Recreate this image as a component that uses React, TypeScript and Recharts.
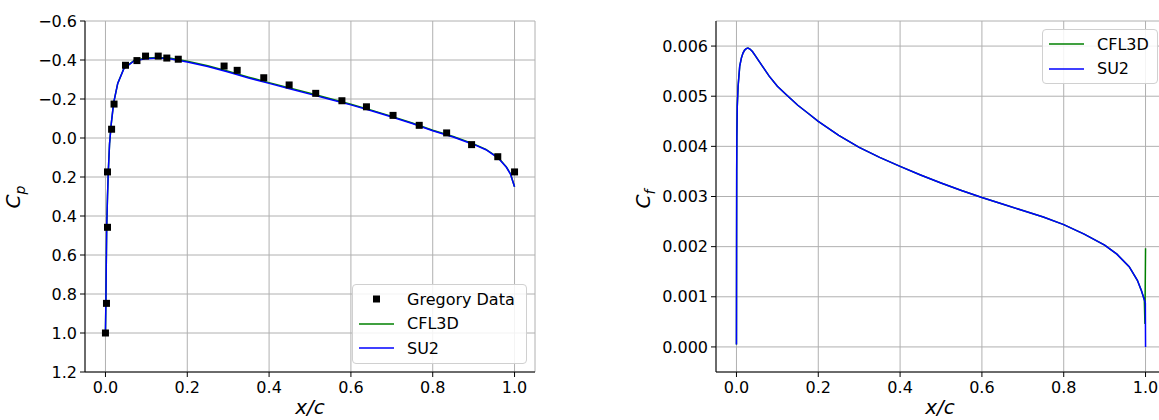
import { ComposedChart, Line, Scatter, XAxis, YAxis, CartesianGrid } from 'recharts';

// Cp distribution (x/c vs Cp)
const cpX = [0, 0.001, 0.002, 0.003, 0.005, 0.007, 0.01, 0.014, 0.02, 0.03, 0.045, 0.07, 0.1, 0.13, 0.16, 0.2, 0.25, 0.3, 0.35, 0.4, 0.45, 0.5, 0.55, 0.6, 0.65, 0.7, 0.75, 0.8, 0.85, 0.9, 0.93, 0.96, 0.98, 0.99, 1.0];
const su2Cp = [1.0, 0.85, 0.65, 0.46, 0.3, 0.17, 0.03, -0.07, -0.18, -0.28, -0.355, -0.395, -0.407, -0.41, -0.405, -0.39, -0.367, -0.338, -0.308, -0.28, -0.253, -0.225, -0.197, -0.17, -0.14, -0.108, -0.074, -0.037, -0.005, 0.033, 0.06, 0.103, 0.15, 0.185, 0.25];
const cfl3dCp = [1.0, 0.85, 0.65, 0.46, 0.3, 0.17, 0.03, -0.07, -0.18, -0.28, -0.357, -0.398, -0.41, -0.413, -0.409, -0.394, -0.371, -0.342, -0.312, -0.284, -0.257, -0.229, -0.201, -0.173, -0.143, -0.111, -0.077, -0.04, -0.008, 0.03, 0.058, 0.1, 0.148, 0.183, 0.25];

const gregoryX = [0, 0.0025, 0.005, 0.005, 0.015, 0.021, 0.049, 0.077, 0.098, 0.129, 0.15, 0.178, 0.29, 0.322, 0.387, 0.449, 0.514, 0.578, 0.638, 0.703, 0.767, 0.834, 0.895, 0.959, 1.0];
const gregoryCp = [1.0, 0.848, 0.458, 0.174, -0.045, -0.174, -0.373, -0.397, -0.42, -0.42, -0.41, -0.404, -0.369, -0.347, -0.309, -0.272, -0.229, -0.191, -0.16, -0.116, -0.065, -0.026, 0.034, 0.096, 0.174];

// Skin friction (x/c vs Cf)
const su2CfX = [0, 0.0003, 0.0006, 0.001, 0.002, 0.004, 0.008, 0.012, 0.016, 0.02, 0.024, 0.028, 0.033, 0.039, 0.046, 0.055, 0.065, 0.08, 0.1, 0.122, 0.15, 0.175, 0.2, 0.25, 0.3, 0.35, 0.4, 0.45, 0.5, 0.55, 0.6, 0.65, 0.7, 0.75, 0.8, 0.85, 0.9, 0.93, 0.96, 0.98, 0.99, 0.997, 0.9995, 1.0];
const su2Cf = [0.00005, 0.002, 0.0035, 0.0042, 0.0048, 0.0052, 0.0056, 0.00576, 0.00586, 0.00592, 0.00595, 0.00596, 0.00594, 0.00589, 0.00581, 0.0057, 0.00558, 0.0054, 0.0052, 0.00503, 0.00482, 0.00466, 0.0045, 0.00422, 0.00398, 0.00378, 0.0036, 0.00343, 0.00327, 0.00312, 0.00298, 0.00285, 0.00272, 0.00259, 0.00244, 0.00225, 0.00203, 0.00185, 0.0016, 0.00133, 0.00112, 0.00094, 0.00088, 0];
const cfl3dCfX = [0, 0.0003, 0.0006, 0.001, 0.002, 0.004, 0.008, 0.012, 0.016, 0.02, 0.024, 0.028, 0.033, 0.039, 0.046, 0.055, 0.065, 0.08, 0.1, 0.122, 0.15, 0.175, 0.2, 0.25, 0.3, 0.35, 0.4, 0.45, 0.5, 0.55, 0.6, 0.65, 0.7, 0.75, 0.8, 0.85, 0.9, 0.93, 0.96, 0.98, 0.99, 0.997, 0.9985, 1.0];
const cfl3dCf = [0.00005, 0.002, 0.0035, 0.0042, 0.0048, 0.0052, 0.0056, 0.00576, 0.00586, 0.00592, 0.00595, 0.00596, 0.00594, 0.00589, 0.00581, 0.0057, 0.00558, 0.0054, 0.0052, 0.00503, 0.00482, 0.00466, 0.0045, 0.00422, 0.00398, 0.00378, 0.0036, 0.00343, 0.00327, 0.00312, 0.00298, 0.00285, 0.00272, 0.00259, 0.00244, 0.00225, 0.00203, 0.00185, 0.0016, 0.00133, 0.00112, 0.00094, 0.00046, 0.00197];

const xTicks = [0, 0.2, 0.4, 0.6, 0.8, 1.0];
const cpTicks = [-0.6, -0.4, -0.2, 0, 0.2, 0.4, 0.6, 0.8, 1.0, 1.2];
const cfTicks = [0, 0.001, 0.002, 0.003, 0.004, 0.005, 0.006];

const GREEN = '#008000';
const BLUE = '#0000ff';
const FONT = '"DejaVu Sans", sans-serif';
const tickStyle = { fontFamily: FONT, fontSize: 16, fill: '#000' };

const fmt = (d: number) => (v: number) => v.toFixed(d).replace('-', '\u2212');

const squareShape = (p: any) => <rect x={p.cx - 3.5} y={p.cy - 3.5} width={7} height={7} fill="#000" />;

interface LegendItem { label: string; kind: 'square' | 'line'; color: string }

function LegendBox({ items, left, top, width }: { items: LegendItem[]; left: number; top: number; width: number }) {
  return (
    <div style={{
      position: 'absolute', left, top, width, boxSizing: 'border-box', background: 'rgba(255,255,255,0.85)',
      border: '1px solid #d0d0d0', borderRadius: 4, padding: '2px 0 2px 6px', fontFamily: FONT, fontSize: 16, color: '#000',
    }}>
      {items.map((it) => (
        <div key={it.label} style={{ display: 'flex', alignItems: 'center', height: 24.5 }}>
          <svg width={35} height={10} style={{ marginRight: 13, flexShrink: 0 }}>
            {it.kind === 'square'
              ? <rect x={14} y={1.5} width={7} height={7} fill="#000" />
              : <line x1={0} y1={5} x2={35} y2={5} stroke={it.color} strokeWidth={1.5} />}
          </svg>
          <span style={{ whiteSpace: 'nowrap' }}>{it.label}</span>
        </div>
      ))}
    </div>
  );
}

const axisLine = { stroke: '#000', strokeWidth: 1 };
const tickLine = { stroke: '#000', strokeWidth: 1 };

function YLabel({ x, y, sub }: { x: number; y: number; sub: string }) {
  return (
    <text x={x} y={y} transform={`rotate(-90 ${x} ${y})`} textAnchor="middle" fontFamily={FONT} fontStyle="italic" fontSize={20} fill="#000">
      C<tspan fontSize={14} dy={5}>{sub}</tspan>
    </text>
  );
}

function XLabel({ x, y }: { x: number; y: number }) {
  return (
    <text x={x} y={y} textAnchor="middle" fontFamily={FONT} fontStyle="italic" fontSize={20} fill="#000">x/c</text>
  );
}

export default function App() {
  const su2CpData = cpX.map((x, i) => ({ x, v: su2Cp[i] }));
  const cfl3dCpData = cpX.map((x, i) => ({ x, v: cfl3dCp[i] }));
  const gregoryData = gregoryX.map((x, i) => ({ x, v: gregoryCp[i] }));
  const su2CfData = su2CfX.map((x, i) => ({ x, v: su2Cf[i] }));
  const cfl3dCfData = cfl3dCfX.map((x, i) => ({ x, v: cfl3dCf[i] }));

  const margin = { top: 21, right: 25, bottom: 18, left: 25 };

  return (
    <div style={{ position: 'absolute', left: 0, top: 0, width: 1159, height: 420, overflow: 'hidden', background: '#fff' }}>
      <div style={{ position: 'absolute', left: 0, top: 0 }}>
        <ComposedChart width={560} height={420} margin={margin}>
          <CartesianGrid stroke="#b0b0b0" strokeWidth={1} />
          <XAxis dataKey="x" type="number" domain={[-0.05, 1.05]} ticks={xTicks} tickFormatter={fmt(1)} allowDataOverflow
            height={30} tick={tickStyle} tickSize={5} tickMargin={5} axisLine={axisLine} tickLine={tickLine}
            label={{ content: () => <XLabel x={310} y={414} /> }} />
          <XAxis xAxisId="top" orientation="top" type="number" domain={[-0.05, 1.05]} ticks={xTicks} height={0} tick={false} tickLine={false} axisLine={axisLine} />
          <YAxis dataKey="v" type="number" reversed domain={[-0.6, 1.2]} ticks={cpTicks} tickFormatter={fmt(1)} allowDataOverflow
            width={60} tick={tickStyle} tickSize={5} tickMargin={3} axisLine={axisLine} tickLine={tickLine}
            label={{ content: () => <YLabel x={20} y={197} sub="p" /> }} />
          <YAxis yAxisId="right" orientation="right" type="number" domain={[-0.6, 1.2]} width={0} tick={false} tickLine={false} axisLine={axisLine} />
          <Scatter name="Gregory Data" data={gregoryData} dataKey="v" shape={squareShape} isAnimationActive={false} />
          <Line name="CFL3D" data={cfl3dCpData} dataKey="v" type="linear" stroke={GREEN} strokeWidth={1.5} dot={false} isAnimationActive={false} />
          <Line name="SU2" data={su2CpData} dataKey="v" type="linear" stroke={BLUE} strokeWidth={1.5} dot={false} isAnimationActive={false} />
        </ComposedChart>
      </div>
      <div style={{ position: 'absolute', left: 631, top: 0 }}>
        <ComposedChart width={560} height={420} margin={margin}>
          <CartesianGrid stroke="#b0b0b0" strokeWidth={1} />
          <XAxis dataKey="x" type="number" domain={[-0.05, 1.05]} ticks={xTicks} tickFormatter={fmt(1)} allowDataOverflow
            height={30} tick={tickStyle} tickSize={5} tickMargin={5} axisLine={axisLine} tickLine={tickLine}
            label={{ content: () => <XLabel x={309} y={414} /> }} />
          <XAxis xAxisId="top" orientation="top" type="number" domain={[-0.05, 1.05]} ticks={xTicks} height={0} tick={false} tickLine={false} axisLine={axisLine} />
          <YAxis dataKey="v" type="number" domain={[-0.0005, 0.0065]} ticks={cfTicks} tickFormatter={fmt(3)} allowDataOverflow
            width={60} tick={tickStyle} tickSize={5} tickMargin={3} axisLine={axisLine} tickLine={tickLine}
            label={{ content: () => <YLabel x={19} y={199} sub="f" /> }} />
          <Line name="CFL3D" data={cfl3dCfData} dataKey="v" type="linear" stroke={GREEN} strokeWidth={1.5} dot={false} isAnimationActive={false} />
          <Line name="SU2" data={su2CfData} dataKey="v" type="linear" stroke={BLUE} strokeWidth={1.5} dot={false} isAnimationActive={false} />
        </ComposedChart>
      </div>
      <LegendBox left={352} top={284} width={175} items={[
        { label: 'Gregory Data', kind: 'square', color: '#000' },
        { label: 'CFL3D', kind: 'line', color: GREEN },
        { label: 'SU2', kind: 'line', color: BLUE },
      ]} />
      <LegendBox left={1042} top={29} width={116} items={[
        { label: 'CFL3D', kind: 'line', color: GREEN },
        { label: 'SU2', kind: 'line', color: BLUE },
      ]} />
    </div>
  );
}
